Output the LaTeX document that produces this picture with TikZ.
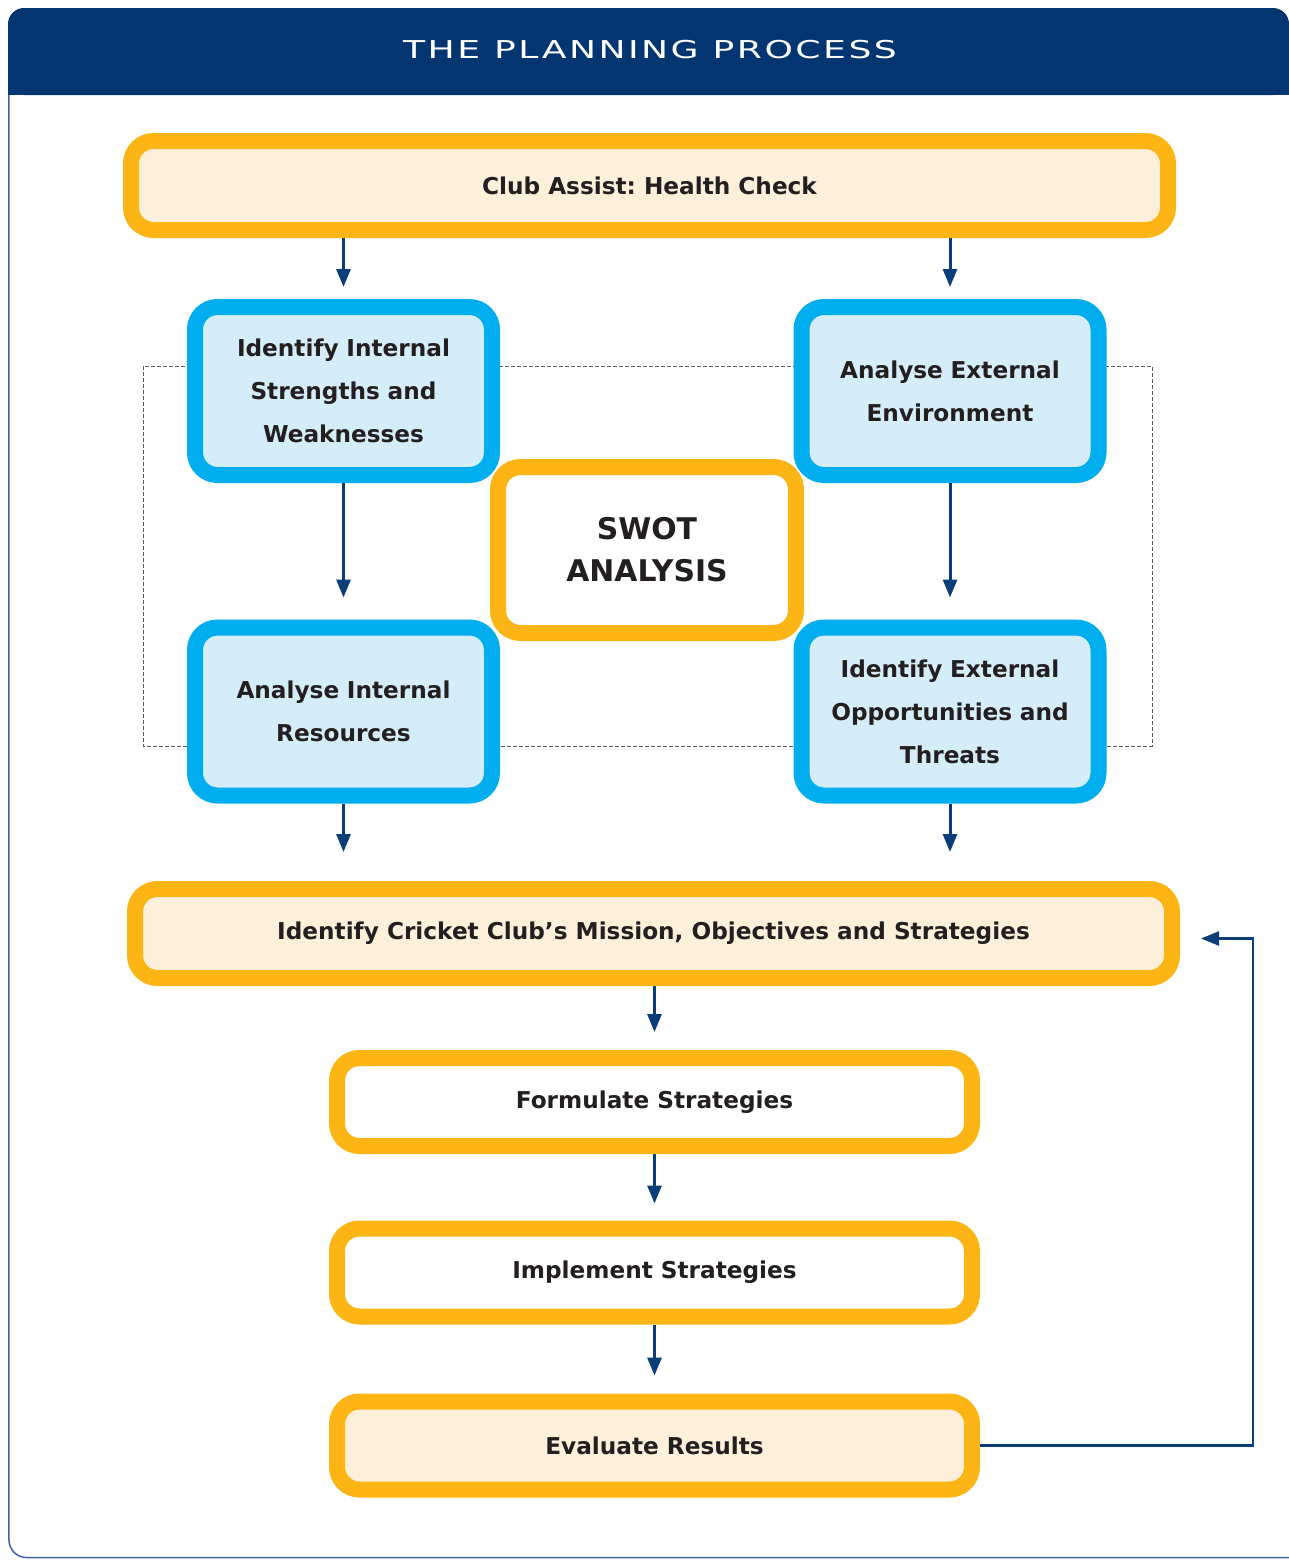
\documentclass[tikz,border=0pt]{standalone}
\usepackage{fontspec}
\setmainfont{DejaVu Sans}
\newfontfamily\titlefont{DejaVu Sans}[FakeStretch=1.47, LetterSpace=10]
\usetikzlibrary{arrows.meta,positioning,calc}
\frenchspacing

\definecolor{navy}{HTML}{033670}
\definecolor{arrblue}{HTML}{0B3D78}
\definecolor{framblue}{HTML}{4064A0}
\definecolor{gold}{HTML}{FDB515}
\definecolor{cream}{HTML}{FDF0DA}
\definecolor{cyanb}{HTML}{00AEEF}
\definecolor{paleblue}{HTML}{D5ECF9}
\definecolor{ink}{HTML}{231F20}

\begin{document}
\begin{tikzpicture}[
  stage/.style={draw=gold, line width=0.32cm, rounded corners=0.45cm, align=center, text=ink,
    inner sep=0pt, font=\bfseries\fontsize{13.2}{24}\selectfont},
  wide/.style={stage, fill=cream, minimum width=20.74cm, minimum height=1.78cm},
  narrow/.style={stage, minimum width=12.7cm, minimum height=1.76cm},
  swot/.style={draw=cyanb, line width=0.32cm, rounded corners=0.45cm, fill=paleblue, align=center,
    text=ink, text width=5.6cm, inner sep=0pt, minimum width=5.94cm, minimum height=3.36cm,
    font=\bfseries\fontsize{13.2}{24.4}\selectfont},
  arr/.style={-{Triangle[length=0.36cm,width=0.28cm]}, arrblue, line width=0.06cm}
]
\useasboundingbox (0,0) rectangle (25.78,-31.2);

% frame and heading
\draw[framblue, line width=0.03cm, rounded corners=0.35cm] (0.18,-1.5) rectangle (26.3,-31.15);
\fill[navy, rounded corners=0.32cm] (0.16,-0.16) rectangle (25.78,-1.9);
\fill[navy] (0.16,-1.2) rectangle (25.78,-1.9);
\node[text=white, font=\titlefont\fontsize{14}{14}\selectfont] (title) at (13.0,-1.0) {THE PLANNING PROCESS};

% dotted swot area
\draw[dash pattern=on 0.07cm off 0.05cm, gray!70!black, line width=0.02cm] (2.86,-7.32) rectangle (23.04,-14.92);

\node[wide] (health) at (12.99,-3.71) {Club Assist: Health Check};

\node[swot] (intl) at (6.87,-7.82) {Identify Internal\\Strengths and\\Weaknesses};
\node[swot] (extl) at (19.0,-7.82) {Analyse External\\Environment};
\node[swot] (res) at (6.87,-14.23) {Analyse Internal\\Resources};
\node[swot] (opp) at (19.0,-14.23) {Identify External\\Opportunities and\\Threats};

\node[stage, fill=white, minimum width=5.96cm, minimum height=3.32cm,
  font=\bfseries\fontsize{17}{24}\selectfont] (swotc) at (12.94,-11.0) {SWOT\\ANALYSIS};

\node[wide] (mission) at (13.07,-18.67) {Identify Cricket Club’s Mission, Objectives and Strategies};
\node[narrow, fill=white] (form) at (13.09,-22.04) {Formulate Strategies};
\node[narrow, fill=white] (impl) at (13.09,-25.45) {Implement Strategies};
\node[narrow, fill=cream] (eval) at (13.09,-28.91) {Evaluate Results};

% arrows
\draw[arr, shorten >=0.24cm] (health.south -| intl.north) -- (intl.north);
\draw[arr, shorten >=0.24cm] (health.south -| extl.north) -- (extl.north);
\draw[arr, shorten >=0.44cm] (intl) -- (res);
\draw[arr, shorten >=0.44cm] (extl) -- (opp);
\draw[arr, shorten >=0.58cm] (res.south) -- (res.south |- mission.north);
\draw[arr, shorten >=0.58cm] (opp.south) -- (opp.south |- mission.north);
\draw[arr, shorten >=0.36cm] (mission.south -| form.north) -- (form.north);
\draw[arr, shorten >=0.34cm] (form) -- (impl);
\draw[arr, shorten >=0.36cm] (impl) -- (eval);

\coordinate (back) at (25.06,-28.91);
\draw[arr, line width=0.045cm, shorten >=0.42cm] (eval.east) -- (back) |- ([yshift=-0.1cm]mission.east);

\end{tikzpicture}
\end{document}
